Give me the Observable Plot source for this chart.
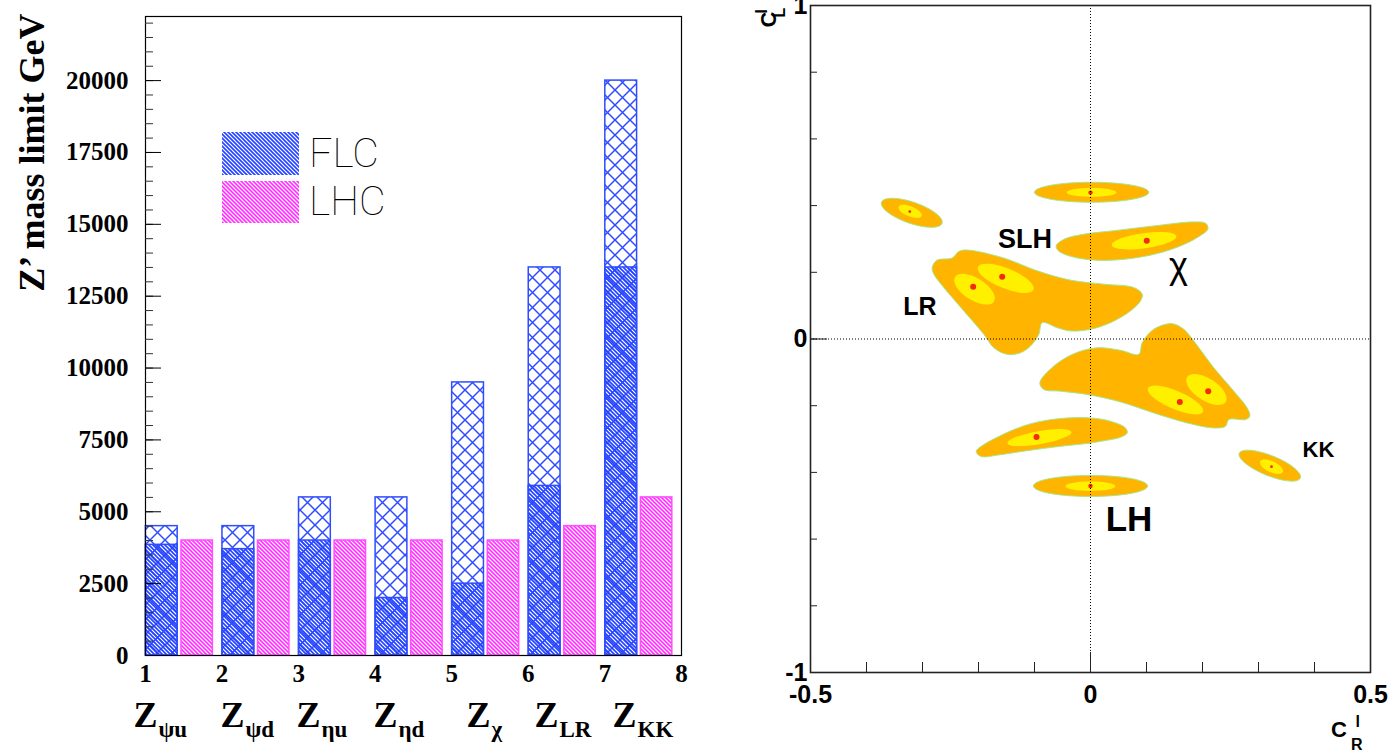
<!DOCTYPE html>
<html><head><meta charset="utf-8">
<script src="https://cdn.jsdelivr.net/npm/d3@7"></script>
<script src="https://cdn.jsdelivr.net/npm/@observablehq/plot@0.6"></script>
<style>
html,body{margin:0;padding:0;background:#fff;}
#root{position:relative;width:1388px;height:754px;overflow:hidden;background:#fff;}
#left{position:absolute;left:0;top:0;}
#right{position:absolute;left:700px;top:0;}
#legend{position:absolute;left:0;top:0;}
</style></head><body>
<svg width="0" height="0" style="position:absolute"><defs>
  <pattern id="hatchBlue" patternUnits="userSpaceOnUse" width="4" height="4">
    <path d="M-1,-1L5,5M-1,3L1,5M3,-1L5,1" stroke="#2242ff" stroke-width="1.6"/>
  </pattern>
  <pattern id="hatchPink" patternUnits="userSpaceOnUse" width="4" height="4">
    <path d="M-1,-1L5,5M-1,3L1,5M3,-1L5,1" stroke="#ff30ff" stroke-width="1.6"/>
  </pattern>
  <pattern id="cross" patternUnits="userSpaceOnUse" width="15" height="15">
    <path d="M-2,-2L17,17M17,-2L-2,17" stroke="#2f4cff" stroke-width="1.5"/>
  </pattern>
</defs></svg>
<div id="root">
  <div id="left"></div>
  <div id="right"></div>
  <svg id="legend" width="420" height="240">
    <rect x="222" y="132" width="77" height="43" fill="url(#hatchBlue)"/>
    <rect x="222" y="181" width="77" height="42" fill="url(#hatchPink)"/>
    <text x="309" y="166.5" font-family="Roboto, 'DejaVu Sans', sans-serif" font-weight="100" font-size="41">FLC</text>
    <text x="309" y="215" font-family="Roboto, 'DejaVu Sans', sans-serif" font-weight="100" font-size="41">LHC</text>
  </svg>
</div>
<script>
// ---------------- Left panel data ----------------
const categories = [1, 2, 3, 4, 5, 6, 7];
const flcTotal   = [4500, 4500, 5500, 5500, 9500, 13500, 20000];
const flcLower   = [3850, 3700, 4000, 2000, 2500, 5900, 13500];
const lhcLimit   = [4000, 4000, 4000, 4000, 4000, 4500, 5500];
const yMajorTicks = [0, 2500, 5000, 7500, 10000, 12500, 15000, 17500, 20000];
const xTickLabels = [1, 2, 3, 4, 5, 6, 7, 8];
const zSubscripts = ["ψu", "ψd", "ηu", "ηd", "χ", "LR", "KK"];
const zLabelX     = [0.843, 1.979, 2.972, 3.978, 5.192, 6.080, 7.099];
const yTitle = "Z’ mass limit GeV";

// ---------------- Right panel data ----------------
const lrSlhOutline = [[-0.2827,0.2144],[-0.2738,0.2367],[-0.2470,0.2427],[-0.2352,0.2626],[-0.2202,0.2668],[-0.1548,0.2427],[-0.0952,0.2045],[-0.0357,0.1765],[0.0238,0.1645],[0.0773,0.1543],[0.0923,0.1344],[0.0893,0.1143],[0.0714,0.0842],[0.0357,0.0490],[0.0,0.0292],[-0.0357,0.0241],[-0.0595,0.0340],[-0.0863,0.0490],[-0.0923,0.0141],[-0.1071,-0.0211],[-0.1250,-0.0412],[-0.1488,-0.0460],[-0.1727,-0.0262],[-0.1905,0.0141],[-0.2262,0.0842],[-0.2620,0.1543],[-0.2798,0.1946]];
const lowerOutline = [[-0.0905,-0.1314],[-0.0655,-0.0812],[-0.0298,-0.0442],[0.0120,-0.0262],[0.0536,-0.0340],[0.0863,-0.0460],[0.0923,-0.0111],[0.1130,0.0292],[0.1459,0.0460],[0.1666,0.0292],[0.1845,-0.0060],[0.2202,-0.0863],[0.2559,-0.1564],[0.2798,-0.2066],[0.2845,-0.2316],[0.2768,-0.2415],[0.2470,-0.2415],[0.2411,-0.2617],[0.2202,-0.2668],[0.1727,-0.2517],[0.1130,-0.2217],[0.0536,-0.1886],[-0.0059,-0.1663],[-0.0536,-0.1564],[-0.0834,-0.1513]];
const chiOutline = [[-0.0613,0.2797],[-0.0464,0.2998],[-0.0093,0.3149],[0.0427,0.3248],[0.1170,0.3398],[0.1836,0.3510],[0.2059,0.3468],[0.2096,0.3299],[0.1911,0.3047],[0.1539,0.2746],[0.1020,0.2496],[0.0427,0.2367],[-0.0018,0.2376],[-0.0389,0.2496],[-0.0575,0.2647]];
const lowLeftOutline = [[-0.2041,-0.3368],[-0.1905,-0.3167],[-0.1666,-0.2947],[-0.1370,-0.2716],[-0.1012,-0.2517],[-0.0536,-0.2385],[0,-0.2367],[0.0357,-0.2466],[0.0625,-0.2667],[0.0655,-0.2818],[0.0536,-0.2947],[0.0179,-0.3068],[0,-0.3119],[-0.0536,-0.3218],[-0.1131,-0.3348],[-0.1607,-0.3468],[-0.1964,-0.3519]];
// ellipses: [centre x, centre y, semi-axis u (x,y), conjugate semi-axis v (x,y)]
const orangeEllipses = [
  [0.002, 0.440, 0.102, 0, 0, 0.030],
  [0.000, -0.4406, 0.102, 0, 0, 0.0316],
  [-0.3191, 0.3784, 0.0541, -0.0316, -0.0062, -0.0300],
  [0.3202, -0.3798, 0.0546, -0.0372, -0.0067, -0.0279]
];
const yellowEllipses = [
  [0.002, 0.4395, 0.0446, 0, 0, 0.0130],
  [0.000, -0.4412, 0.0446, 0, 0, 0.0141],
  [-0.3220, 0.3826, 0.0207, -0.0141, -0.0033, -0.0140],
  [0.3232, -0.3829, 0.0202, -0.0159, -0.0041, -0.0150],
  [0.0957, 0.2947, 0.0577, 0.0135, 0.0019, -0.0223],
  [-0.0911, -0.2956, 0.0571, 0.0168, 0.0020, -0.0192],
  [-0.2071, 0.1495, 0.0348, -0.0367, -0.0104, -0.0281],
  [-0.1513, 0.1820, 0.0497, -0.0338, -0.0067, -0.0279],
  [0.1518, -0.1829, 0.0493, -0.0352, -0.0063, -0.0249],
  [0.2071, -0.1513, 0.0345, -0.0376, -0.0107, -0.0277]
];
const bestFitMain  = [[-0.2095,0.1564],[-0.1577,0.1865],[0.1595,-0.1886],[0.2102,-0.1564],[0.1005,0.2947],[-0.0964,-0.2938]];
const bestFitFlat  = [[0,0.439],[0,-0.4406]];
const bestFitSmall = [[-0.3227,0.3820],[0.3232,-0.3829]];
const modelNames = ["LR", "SLH", "KK", "LH"];
const modelX     = [-0.3045, -0.117, 0.407, 0.0688];
const modelY     = [0.0962, 0.2977, -0.3338, -0.5414];
const chiLabel = [{n: "χ", x: 0.157, y: 0.216}];
const rYLabels = [1, 0, -1];
const rXLabels = [-0.5, 0, 0.5];

// ---------------- styles ----------------
const SERIF = "'Liberation Serif', 'Times New Roman', serif";
const SANS = "'Liberation Sans', Arial, Helvetica, sans-serif";
const BLUE = "#2f4dff", PINK = "#ff4dff";
const ORANGE = "#ffb400", YELLOW = "#fff000", RED = "#f52a10", EDGE = "#a8e68a";

// ---------------- Left panel ----------------
{
  const W = 700, H = 754, mL = 145, mR = 19, mT = 16, mB = 99;
  const innerW = W - mL - mR;
  const bars = categories.map((c, i) => ({c, total: flcTotal[i], lower: flcLower[i], lhc: lhcLimit[i]}));
  const yMinor = d3.range(0, 22001, 500);
  const txt = {fontFamily: SERIF, fontWeight: "bold", fill: "black"};
  const plot = Plot.plot({
    width: W, height: H, marginLeft: mL, marginRight: mR, marginTop: mT, marginBottom: mB,
    style: {background: "transparent", overflow: "visible"},
    x: {domain: [1, 8], axis: null},
    y: {domain: [0, 22230], axis: null},
    marks: [
      Plot.rect(bars, {x1: d => d.c + 0.005, x2: d => d.c + 0.42, y1: 0, y2: "total", fill: "url(#cross)", stroke: BLUE, strokeWidth: 1.5}),
      Plot.rect(bars, {x1: d => d.c + 0.005, x2: d => d.c + 0.42, y1: 0, y2: "lower", fill: "url(#hatchBlue)", stroke: BLUE, strokeWidth: 1.5}),
      Plot.rect(bars, {x1: d => d.c + 0.47, x2: d => d.c + 0.88, y1: 0, y2: "lhc", fill: "url(#hatchPink)", stroke: PINK, strokeWidth: 1.5}),
      Plot.frame({stroke: "black", strokeWidth: 1.2}),
      Plot.ruleY(yMinor, {y: d => d, insetRight: innerW - 8, stroke: "#333", strokeWidth: 1}),
      Plot.ruleY(yMajorTicks, {y: d => d, insetRight: innerW - 16, stroke: "black", strokeWidth: 1}),
      Plot.text(yMajorTicks, {y: d => d, text: d => String(d), frameAnchor: "left", textAnchor: "end", dx: -17, fontSize: 25, ...txt}),
      Plot.text(xTickLabels, {x: d => d, text: d => String(d), frameAnchor: "bottom", lineAnchor: "top", dy: 9, fontSize: 25, ...txt}),
      Plot.text(zSubscripts, {x: (d, i) => zLabelX[i], text: () => "Z", frameAnchor: "bottom", lineAnchor: "top", textAnchor: "start", dy: 46, fontSize: 36, ...txt}),
      Plot.text(zSubscripts, {x: (d, i) => zLabelX[i], text: d => d, frameAnchor: "bottom", lineAnchor: "top", textAnchor: "start", dx: 25, dy: 65, fontSize: 23, ...txt}),
      Plot.text([yTitle], {text: d => d, frameAnchor: "top-left", rotate: -90, textAnchor: "end", lineAnchor: "middle", dx: -113, dy: -3, fontSize: 36, ...txt})
    ]
  });
  document.getElementById("left").appendChild(plot);
}

// ---------------- Right panel ----------------
{
  const W = 688, H = 754, mL = 110, mR = 18, mT = 5, mB = 82;
  const innerW = W - mL - mR, innerH = H - mT - mB;
  const polyRows = [lrSlhOutline, lowerOutline, chiOutline, lowLeftOutline]
    .flatMap((p, k) => p.map(([x, y]) => ({id: "p" + k, x, y})));
  const ellRows = (list, tag) => list.flatMap(([cx, cy, ux, uy, vx, vy], k) =>
    [[ux, uy], [vx, vy], [-ux, -uy], [-vx, -vy]].map(([dx, dy]) => ({id: tag + k, x: cx + dx, y: cy + dy})));
  const xMinor = d3.range(-5, 6).map(v => v / 10);
  const yMinor = d3.range(-5, 6).map(v => v / 5);
  const bold = {fontFamily: SANS, fontWeight: "bold", fill: "black"};
  const modelRows = modelNames.map((n, i) => ({n, x: modelX[i], y: modelY[i]}));
  const modelSize = {"LR": 25, "SLH": 27, "KK": 22, "LH": 35};
  const plot = Plot.plot({
    width: W, height: H, marginLeft: mL, marginRight: mR, marginTop: mT, marginBottom: mB,
    style: {background: "transparent", overflow: "visible"},
    x: {domain: [-0.5, 0.5], axis: null},
    y: {domain: [-1, 1], axis: null},
    marks: [
      Plot.line(polyRows, {x: "x", y: "y", z: "id", fill: ORANGE, stroke: EDGE, strokeWidth: 1, curve: "catmull-rom-closed"}),
      Plot.line(ellRows(orangeEllipses, "o"), {x: "x", y: "y", z: "id", fill: ORANGE, stroke: EDGE, strokeWidth: 1, curve: "cardinal-closed", tension: -0.657}),
      Plot.line(ellRows(yellowEllipses, "y"), {x: "x", y: "y", z: "id", fill: YELLOW, stroke: "none", curve: "cardinal-closed", tension: -0.657}),
      Plot.dot(bestFitMain, {x: d => d[0], y: d => d[1], r: 3, fill: RED}),
      Plot.dot(bestFitFlat, {x: d => d[0], y: d => d[1], r: 2.2, fill: RED}),
      Plot.dot(bestFitSmall, {x: d => d[0], y: d => d[1], r: 1.4, fill: RED}),
      Plot.ruleX([0], {stroke: "black", strokeWidth: 1, strokeDasharray: "1,2"}),
      Plot.ruleY([0], {stroke: "black", strokeWidth: 1, strokeDasharray: "1,2"}),
      Plot.frame({stroke: "#222", strokeWidth: 1.6}),
      Plot.ruleY(yMinor, {y: d => d, insetRight: innerW - 7, stroke: "#222"}),
      Plot.ruleY([-1, 0, 1], {y: d => d, insetRight: innerW - 17, stroke: "#222"}),
      Plot.ruleX(xMinor, {x: d => d, insetTop: innerH - 10, stroke: "#222"}),
      Plot.ruleX([-0.5, 0, 0.5], {x: d => d, insetTop: innerH - 20, stroke: "#222"}),
      Plot.text(rYLabels, {y: d => d, text: d => String(d), frameAnchor: "left", textAnchor: "end", dx: -3, fontSize: 25, ...bold}),
      Plot.text(rXLabels, {x: d => d, text: d => String(d), frameAnchor: "bottom", lineAnchor: "top", dy: 13, fontSize: 25, ...bold}),
      Plot.text(modelRows, {x: "x", y: "y", text: "n", fontSize: d => modelSize[d.n], ...bold}),
      Plot.text(chiLabel, {x: "x", y: "y", text: "n", fontSize: 36, fontFamily: SANS, fontWeight: "normal", fill: "black"}),
      // axis titles
      Plot.text(["C"], {text: d => d, frameAnchor: "bottom-right", dx: -23.5, dy: 64, fontSize: 22, ...bold}),
      Plot.text(["l"], {text: d => d, frameAnchor: "bottom-right", dx: -10.5, dy: 54, fontSize: 16, ...bold}),
      Plot.text(["R"], {text: d => d, frameAnchor: "bottom-right", dx: -8, dy: 77, fontSize: 16, ...bold}),
      Plot.text(["C"], {text: d => d, frameAnchor: "top-left", rotate: -90, dx: -50, dy: 22, fontSize: 22, ...bold}),
      Plot.text(["l"], {text: d => d, frameAnchor: "top-left", rotate: -90, dx: -55, dy: 8, fontSize: 16, ...bold}),
      Plot.text(["L"], {text: d => d, frameAnchor: "top-left", rotate: -90, dx: -37, dy: 12, fontSize: 16, ...bold})
    ]
  });
  document.getElementById("right").appendChild(plot);
}
</script>
</body></html>
